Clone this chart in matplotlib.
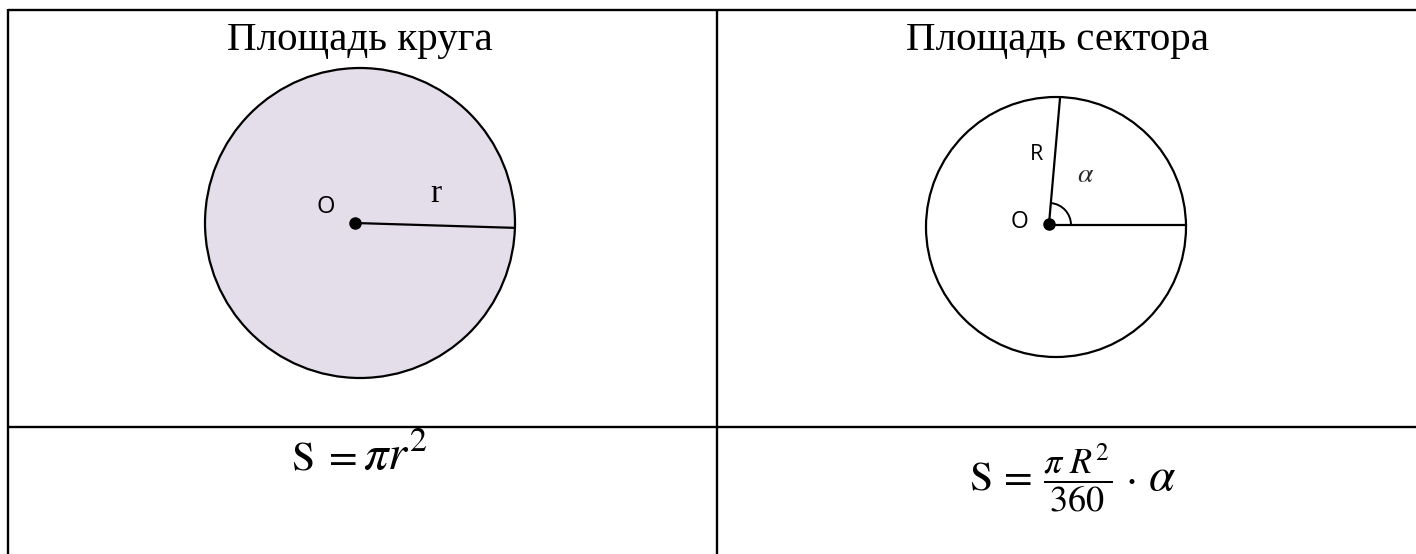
import numpy as np
import matplotlib
matplotlib.use("Agg")
import matplotlib.pyplot as plt
from matplotlib.patches import Circle, Arc

# ---- content ----
titles = ["Площадь круга", "Площадь сектора"]
formula_left = [r"$\mathrm{S}\;=$", r"$\pi r^{2}$"]
formula_right = [r"$\mathrm{S}\,=$", r"$\dfrac{\pi\ R^{2}}{360}$", r"$\cdot$", r"$\alpha$"]
point_labels = ["O", "O"]
radius_labels = ["r", "R"]
angle_label = r"$\alpha$"
sector_angle_deg = 85.0         # angle between the two radii of the sector
circle_radius_angle_deg = -1.8  # direction of the radius in the first circle

plt.rcParams["mathtext.fontset"] = "stix"

W, H = 1416, 554
fig = plt.figure(figsize=(W / 100, H / 100), dpi=100)
ax = fig.add_axes([0, 0, 1, 1])
ax.set_xlim(0, W)
ax.set_ylim(H, 0)
ax.axis("off")

# ---- table grid ----
lw_table = 1.7
x_left, y_top, x_mid, y_mid = 8, 10, 717, 427
kw = dict(color="black", lw=lw_table, solid_capstyle="butt")
ax.plot([x_left, x_left], [y_top - 1, H], **kw)
ax.plot([x_left, W], [y_top, y_top], **kw)
ax.plot([x_mid, x_mid], [y_top, H], **kw)
ax.plot([x_left, W], [y_mid, y_mid], **kw)

# ---- titles ----
serif = ["Liberation Serif", "DejaVu Serif"]
ax.text(360, 50, titles[0], ha="center", va="baseline", fontsize=29.5, family=serif)
ax.text(1058, 50, titles[1], ha="center", va="baseline", fontsize=29.5, family=serif)

# ---- left circle ----
c1 = (360, 223); r1 = 155
ax.add_patch(Circle(c1, r1, facecolor="#E3DEEA", edgecolor="black", lw=1.6))
p1 = (355, 223)
a = np.deg2rad(circle_radius_angle_deg)
ax.plot([p1[0], c1[0] + r1 * np.cos(a)], [p1[1], c1[1] - r1 * np.sin(a)],
        color="black", lw=1.6)
ax.plot(*p1, "o", color="black", ms=8)
sans = ["Open Sans", "DejaVu Sans"]
ax.text(326, 207, point_labels[0], ha="center", va="center", fontsize=17, family=sans)
ax.text(436, 202, radius_labels[0], ha="center", va="baseline", fontsize=24, family=serif)

# ---- right circle with sector ----
c2 = (1056, 227); r2 = 130
ax.add_patch(Circle(c2, r2, facecolor="white", edgecolor="black", lw=1.6))
p2 = (1049, 224)
ax.plot([p2[0], c2[0] + r2], [225, 225], color="black", lw=1.6)
b = np.deg2rad(sector_angle_deg)
top_y = 99
ax.plot([p2[0], p2[0] + (p2[1] - top_y) / np.tan(b)], [p2[1], top_y], color="black", lw=1.6)
ax.add_patch(Arc((p2[0], 225), 44, 44, theta1=-sector_angle_deg, theta2=0, color="black", lw=1.4))
ax.plot(*p2, "o", color="black", ms=8)
ax.text(1020, 222, point_labels[1], ha="center", va="center", fontsize=16.5, family=sans)
ax.text(1037, 155, radius_labels[1], ha="center", va="center", fontsize=15.5, family=sans)
ax.text(1086, 182, angle_label, ha="center", va="baseline", fontsize=20, color="#2a2a2a")

# ---- formulas ----
ax.text(357, 470, formula_left[0], ha="right", va="baseline", fontsize=30)
ax.text(363, 470, formula_left[1], ha="left", va="baseline", fontsize=35)

ax.text(1032, 490, formula_right[0], ha="right", va="baseline", fontsize=30)
ax.text(1078, 478, formula_right[1], ha="center", va="center", fontsize=26)
ax.text(1130, 490, formula_right[2], ha="center", va="baseline", fontsize=30)
ax.text(1148, 490, formula_right[3], ha="left", va="baseline", fontsize=34)

fig.savefig("out.png", dpi=100)
